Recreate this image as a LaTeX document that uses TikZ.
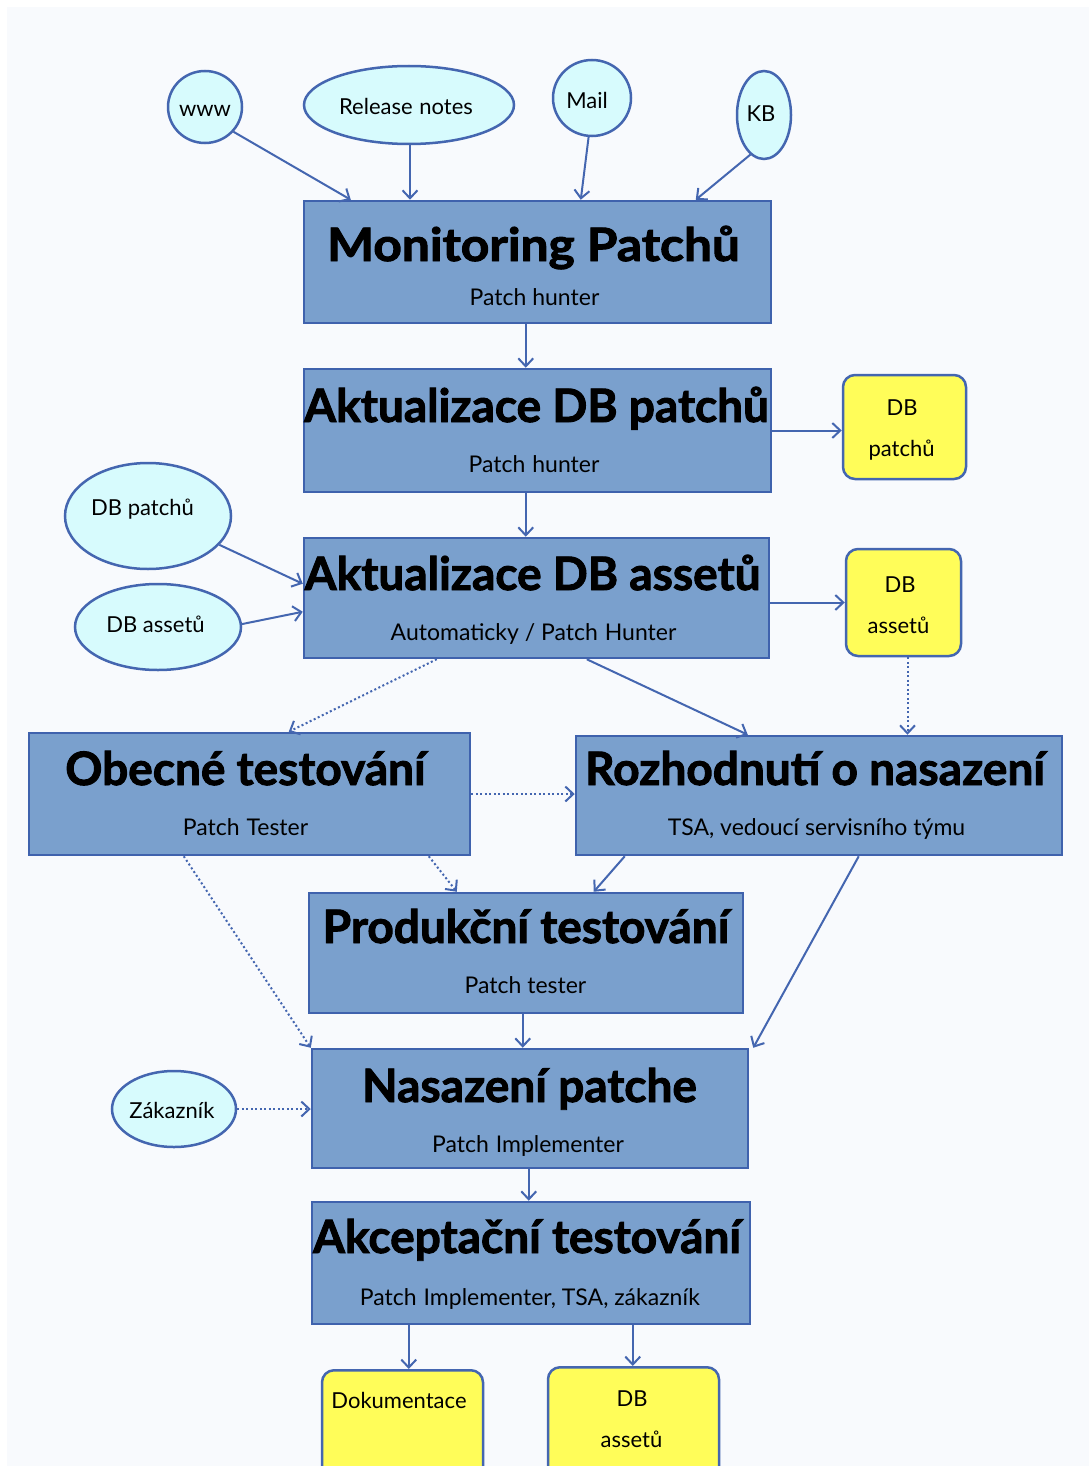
\documentclass[tikz,border=0pt]{standalone}
\usepackage{fontspec}
\usepackage{graphicx}
\setmainfont{Lato}
\newfontfamily\titlefont[FakeBold=2]{Lato}
\usetikzlibrary{arrows.meta,shapes.geometric}
\definecolor{boxfill}{HTML}{7AA0CD}
\definecolor{boxline}{HTML}{3F62AD}
\definecolor{cyanfill}{HTML}{D7FBFD}
\definecolor{ellline}{HTML}{4466B0}
\definecolor{yelfill}{HTML}{FFFD59}
\definecolor{arrc}{HTML}{4466B0}
\definecolor{bgc}{HTML}{F8FAFD}
\newcommand{\dsp}{\hspace{0.3em}}
\tikzset{
  procbox/.style={draw=boxline, fill=boxfill, line width=2.5pt, inner sep=0pt, rectangle},
  yelbox/.style={draw=ellline, fill=yelfill, line width=2.5pt, inner sep=0pt, rectangle, rounded corners=12pt},
  oval/.style={draw=ellline, fill=cyanfill, line width=2.5pt, inner sep=0pt, ellipse},
  ttl/.style={anchor=base, inner sep=0pt, font=\titlefont\bfseries\fontsize{46}{50}\selectfont},
  sub/.style={anchor=base, inner sep=0pt, font=\fontsize{23}{26}\selectfont},
  lbl/.style={anchor=base, inner sep=0pt, font=\fontsize{22}{25}\selectfont},
  arr/.style={draw=arrc, line width=2pt, -{Straight Barb[length=8pt,width=15pt]}},
  darr/.style={arr, dash pattern=on 2pt off 2.5pt},
}
\begin{document}
\begin{tikzpicture}[x=1pt,y=-1pt]
\useasboundingbox (0,0) rectangle (1089,1466);
\clip (0,0) rectangle (1089,1466);
\fill[white] (0,0) rectangle (1089,1466);
\fill[bgc] (7,7) rectangle (1089,1466);

% source ellipses
\node[oval, minimum width=74, minimum height=72] (www) at (205,107) {};
\node[lbl] (wwwT) at (205,117) {www};
\node[oval, minimum width=210, minimum height=78] (rel) at (409,105) {};
\node[lbl] (relT) at (406,115) {Release\dsp notes};
\node[oval, minimum width=78, minimum height=76] (mail) at (592,98) {};
\node[lbl] (mailT) at (587,109) {Mail};
\node[oval, minimum width=54, minimum height=88] (kb) at (764,115) {};
\node[lbl] (kbT) at (761,122) {KB};

% process boxes
\node[procbox, minimum width=467, minimum height=122] (mon) at (537.5,262) {};
\node[ttl] (monT) at (533.5,261) {\scalebox{1.08}[1]{Monitoring Patchů}};
\node[sub] (monS) at (534.5,305) {Patch hunter};

\node[procbox, minimum width=467, minimum height=123] (dbp) at (537.5,430.5) {};
\node[ttl] (dbpT) at (536.5,422) {Aktualizace DB patchů};
\node[sub] (dbpS) at (534,472) {Patch\dsp hunter};

\node[procbox, minimum width=465, minimum height=120] (dba) at (536.5,598) {};
\node[ttl] (dbaT) at (532.5,590) {Aktualizace DB assetů};
\node[sub] (dbaS) at (533.5,640) {Automaticky / Patch\dsp Hunter};

\node[procbox, minimum width=441, minimum height=122] (obe) at (249.5,794) {};
\node[ttl] (obeT) at (245.5,785) {Obecné testování};
\node[sub] (obeS) at (245.5,835) {Patch\dsp Tester};

\node[procbox, minimum width=486, minimum height=119] (roz) at (819,795.5) {};
\node[ttl] (rozT) at (815,785) {Rozhodnutí o nasazení};
\node[sub] (rozS) at (816.5,835) {TSA, vedoucí servisního týmu};

\node[procbox, minimum width=434, minimum height=120] (prod) at (526,953) {};
\node[ttl] (prodT) at (526,943) {Produkční testování};
\node[sub] (prodS) at (525.5,993) {Patch tester};

\node[procbox, minimum width=436, minimum height=119] (nas) at (530,1108.5) {};
\node[ttl] (nasT) at (529.5,1102) {Nasazení patche};
\node[sub] (nasS) at (528,1152) {Patch\dsp Implementer};

\node[procbox, minimum width=438, minimum height=122] (akc) at (531,1263) {};
\node[ttl] (akcT) at (527,1253) {Akceptační testování};
\node[sub] (akcS) at (530,1305) {Patch\dsp Implementer, TSA, zákazník};

% side ellipses
\node[oval, minimum width=166, minimum height=106] (edbp) at (148,516) {};
\node[lbl] (edbpT) at (142.5,515) {DB patchů};
\node[oval, minimum width=166, minimum height=86] (edba) at (158,627) {};
\node[lbl] (edbaT) at (155.5,632) {DB assetů};
\node[oval, minimum width=124, minimum height=76] (zak) at (174,1109) {};
\node[lbl] (zakT) at (172,1118) {Zákazník};

% yellow stores
\node[yelbox, minimum width=123, minimum height=104] (ydbp) at (904.5,427) {};
\node[lbl] (ydbpA) at (902,415) {DB};
\node[lbl] (ydbpB) at (901.5,456) {patchů};
\node[yelbox, minimum width=115, minimum height=107] (ydba) at (903.5,602.5) {};
\node[lbl] (ydbaA) at (900,592) {DB};
\node[lbl] (ydbaB) at (898.5,633) {assetů};
\node[yelbox, minimum width=161, minimum height=140, anchor=north] (dok) at (402.5,1369) {};
\node[lbl] (dokT) at (399,1408) {Dokumentace};
\node[yelbox, minimum width=171, minimum height=140, anchor=north] (ydb2) at (633.5,1366) {};
\node[lbl] (ydb2A) at (632,1406) {DB};
\node[lbl] (ydb2B) at (631.5,1447) {assetů};

% connectors
\draw[arr] (www.-41) -- ([xshift=48]mon.north west);
\draw[arr] ([xshift=1]rel.south) -- ([xshift=1]rel.south |- mon.north);
\draw[arr] (mail.265) -- ([xshift=278]mon.north west);
\draw[arr] (kb.251) -- ([xshift=393]mon.north west);
\draw[arr] ([xshift=223]mon.south west) -- ([xshift=223]dbp.north west);
\draw[arr] (dbp.east) -- (dbp.east -| ydbp.west);
\draw[arr] ([xshift=223]dbp.south west) -- ([xshift=223]dba.north west);
\draw[arr] (edbp.-22) -- ([yshift=-47]dba.north west);
\draw[arr] (edba.2) -- ([yshift=-75]dba.north west);
\draw[arr] (dba.east |- ydba.west) -- (ydba.west);
\draw[darr] ([xshift=134]dba.south west) -- ([xshift=261]obe.north west);
\draw[arr] ([xshift=284]dba.south west) -- ([xshift=173]roz.north west);
\draw[darr] ([xshift=4]ydba.south) -- ([xshift=4]ydba.south |- roz.north);
\draw[darr] (obe.east) -- (obe.east -| roz.west);
\draw[darr] ([xshift=401]obe.south west) -- ([xshift=149]prod.north west);
\draw[arr] ([xshift=50]roz.south west) -- ([xshift=286]prod.north west);
\draw[darr] ([xshift=156]obe.south west) -- (nas.north west);
\draw[arr] ([xshift=284]roz.south west) -- ([xshift=4]nas.north east);
\draw[arr] ([xshift=215]prod.south west) -- ([xshift=212]nas.north west);
\draw[darr] (zak.east) -- (zak.east -| nas.west);
\draw[arr] ([xshift=218]nas.south west) -- ([xshift=218]akc.north west);
\draw[arr] ([xshift=98]akc.south west) -- ([xshift=98]akc.south west |- dok.north);
\draw[arr] ([xshift=322]akc.south west) -- ([xshift=322]akc.south west |- ydb2.north);
\end{tikzpicture}
\end{document}
